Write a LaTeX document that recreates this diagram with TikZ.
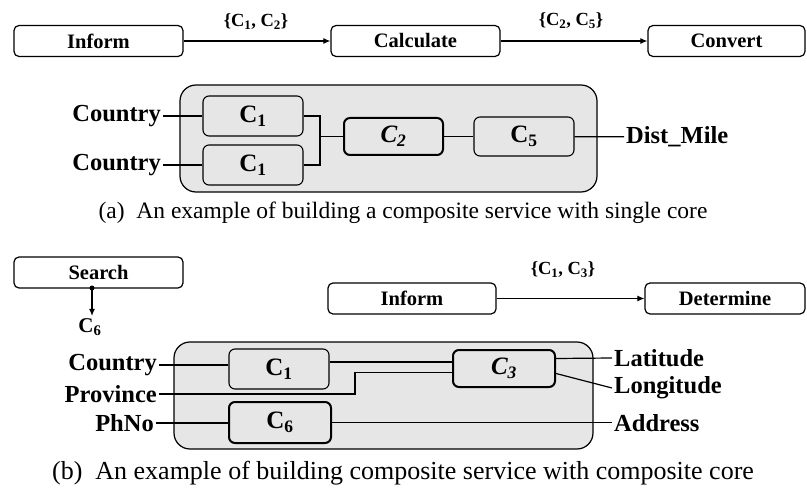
\documentclass[tikz,border=0pt]{standalone}
\usepackage{fontspec}
\setmainfont{Liberation Serif}
\usepackage{tikz}
\usetikzlibrary{arrows.meta}

\definecolor{coregray}{RGB}{230,230,230}

\begin{document}
\begin{tikzpicture}[x=1pt, y=-1pt,
        svc/.style={draw, line width=1.2pt, rounded corners=5pt, fill=white,
            minimum height=31pt, inner sep=0pt, font=\fontsize{20.5}{22}\selectfont\bfseries},
        core/.style={draw, line width=1.2pt, rounded corners=16pt, fill=coregray, inner sep=0pt},
        comp/.style={draw, line width=1.1pt, rounded corners=6pt, fill=coregray,
            inner sep=0pt, font=\fontsize{25}{27}\selectfont\bfseries},
        compb/.style={comp, line width=2pt},
        param/.style={inner sep=2pt, font=\fontsize{24.5}{26}\selectfont\bfseries},
        cset/.style={font=\fontsize{18.5}{20}\selectfont\bfseries},
        flow/.style={-{Latex[length=7pt,width=6pt]}, line width=1.1pt},
        wire/.style={line width=1.2pt}]

        \useasboundingbox (0,0) rectangle (807,500);

        % (a) single core
        \node [svc, minimum width=169pt] (infA) at (98.5,41) {Inform};
        \node [svc, minimum width=169pt] (calcA) at (415.5,41) {Calculate};
        \node [svc, minimum width=157pt] (convA) at (726.5,41) {Convert};

        \draw [flow] (infA) -- (calcA);
        \draw [flow] (calcA) -- (convA);
        \node [cset] (setA1) at (256,22) {\{C\textsubscript{1}, C\textsubscript{2}\}};
        \node [cset] (setA2) at (571,21) {\{C\textsubscript{2}, C\textsubscript{5}\}};

        \node [core, minimum width=417pt, minimum height=107pt] (coreA) at (388.5,138.5) {};
        \node [comp, minimum width=100pt, minimum height=40pt] (c1a) at (253,116) {C\textsubscript{1}};
        \node [comp, minimum width=100pt, minimum height=40pt] (c1b) at (253,165) {C\textsubscript{1}};
        \node [compb, minimum width=99pt, minimum height=37pt] (c2a) at (393.5,136.5) {\textit{C\textsubscript{2}}};
        \node [comp, minimum width=100pt, minimum height=39pt] (c5a) at (524,136.5) {C\textsubscript{5}};

        \node [param, anchor=east] (ctyA1) at (163,116) {Country};
        \node [param, anchor=east] (ctyA2) at (163,165) {Country};
        \node [param, anchor=west] (dist) at (624,137) {Dist\_Mile};

        \coordinate (jnA) at (320,136.5);
        \draw [wire] (ctyA1) -- (c1a);
        \draw [wire] (ctyA2) -- (c1b);
        \draw [wire] (c1a.east) -| (jnA) |- (c1b.east);
        \draw [wire] (jnA) -- (c2a);
        \draw [wire] (c2a) -- (c5a);
        \draw [wire] (c5a) -- (dist);

        \node [font=\fontsize{23.5}{25}\selectfont] (capA) at (403,213)
            {(a)\ \ An example of building a composite service with single core};

        % (b) composite core
        \node [svc, minimum width=169pt] (srch) at (98.5,272.5) {Search};
        \coordinate (dot) at (92,288);
        \fill (dot) circle [radius=2.5pt];
        \node [cset, font=\fontsize{21}{22}\selectfont\bfseries] (c6lbl) at (90,327) {C\textsubscript{6}};
        \draw [flow] (dot) -- ([yshift=-1pt]c6lbl.north -| dot);

        \node [svc, minimum width=168pt] (infB) at (412,298.5) {Inform};
        \node [svc, minimum width=160pt] (detB) at (725,298.5) {Determine};
        \draw [flow] (infB) -- (detB);
        \node [cset] (setB) at (563,270) {\{C\textsubscript{1}, C\textsubscript{3}\}};

        \node [core, minimum width=419pt, minimum height=107pt] (coreB) at (383.5,395.5) {};
        \node [comp, minimum width=100pt, minimum height=40pt] (c1B) at (279,369) {C\textsubscript{1}};
        \node [compb, minimum width=102pt, minimum height=41pt] (c6B) at (280,422.5) {C\textsubscript{6}};
        \node [compb, minimum width=102pt, minimum height=37pt] (c3B) at (504,368.5) {\textit{C\textsubscript{3}}};

        \node [param, anchor=east] (ctyB) at (159,365) {Country};
        \node [param, anchor=east] (prov) at (159,394) {Province};
        \node [param, anchor=east] (phno) at (156,423) {PhNo};
        \node [param, anchor=west] (lat) at (612,358) {Latitude};
        \node [param, anchor=west] (lon) at (612,388) {Longitude};
        \node [param, anchor=west] (addr) at (612,423) {Address};

        \coordinate (bend) at (355,394);
        \draw [wire] (ctyB.east) -- (ctyB.east -| c1B.west);
        \draw [wire] ([yshift=7pt]c1B.east) -- ([yshift=7pt]c1B.east -| c3B.west);
        \draw [wire] (prov.east) -- (bend) |- ([yshift=-4pt]c3B.west);
        \draw [wire] (phno.east) -- (phno.east -| c6B.west);
        \draw [wire] (c6B.east) -- (c6B.east -| addr.west);
        \draw [wire] ([yshift=10pt]c3B.east) -- (lat.west);
        \draw [wire] ([yshift=-5pt]c3B.east) -- (lon.west);

        \node [font=\fontsize{26}{28}\selectfont] (capB) at (403,473)
            {(b)\ \ An example of building composite service with composite core};

\end{tikzpicture}
\end{document}
